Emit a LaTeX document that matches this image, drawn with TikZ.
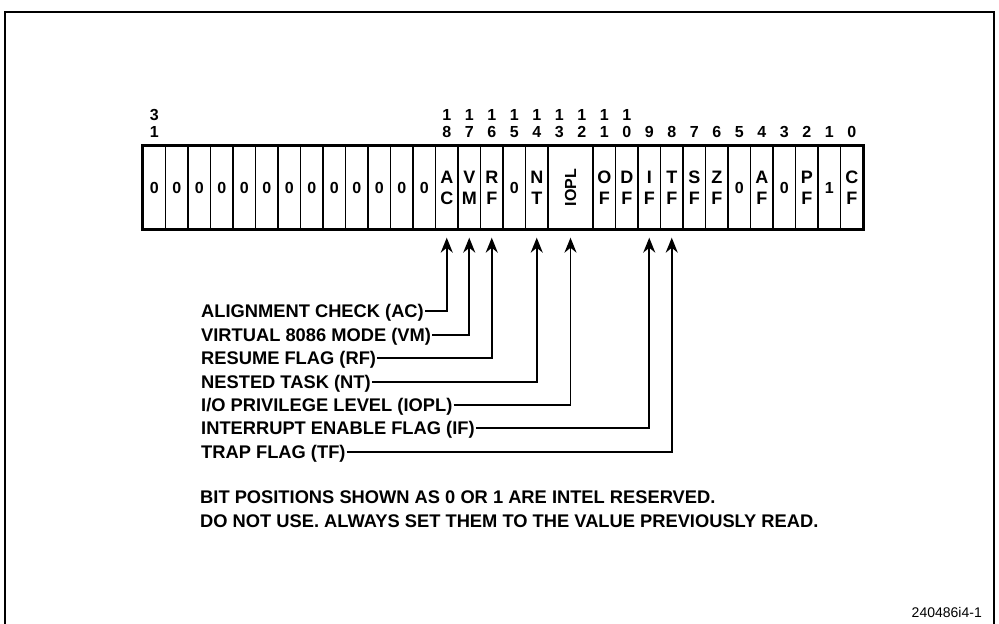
\documentclass[tikz,border=0pt]{standalone}
\usepackage{fontspec}
\setmainfont{Liberation Sans}
\usetikzlibrary{arrows.meta,positioning}
\tikzset{
  cell/.style={draw,line width=1.3pt,minimum width=22.5pt,minimum height=83pt,
               inner sep=0pt,align=center,font=\fontsize{18}{21}\selectfont\bfseries},
  zcell/.style={cell,font=\fontsize{16}{18}\selectfont\bfseries},
  bitno/.style={inner sep=0pt,font=\fontsize{16}{18}\selectfont\bfseries},
  flaglbl/.style={anchor=west,inner sep=1pt,text height=12.5pt,text depth=0pt,
                  font=\fontsize{18.3}{20}\selectfont\bfseries},
  flagarr/.style={-{Stealth[length=15pt,width=12pt]},line width=1.7pt},
  note/.style={anchor=west,inner sep=0pt,font=\fontsize{18.3}{20}\selectfont\bfseries},
}

\begin{document}
\begin{tikzpicture}[x=1pt,y=-1pt]
  \useasboundingbox (0,0) rectangle (999,624);
  \draw[line width=2.8pt] (5,640) -- (5,12) -- (994,12) -- (994,640);

  % register cells, bit 31 on the left
  \foreach \b in {31,...,19,15,5,3}
    \node[zcell] (c\b) at ({154.25+(31-\b)*22.5},187.5) {0};
  \node[zcell] (c1) at ({154.25+30*22.5},187.5) {1};
  \foreach \b/\p/\q in {18/A/C,17/V/M,16/R/F,14/N/T,11/O/F,10/D/F,9/I/F,
                        8/T/F,7/S/F,6/Z/F,4/A/F,2/P/F,0/C/F}
    \node[cell] (c\b) at ({154.25+(31-\b)*22.5},187.5) {\p\\\q};
  \node[cell,minimum width=45pt,font=\fontsize{16}{18}\selectfont\bfseries]
    (iopl) at (570.5,187.5) {\rotatebox{90}{IOPL}};
  \draw[line width=3pt] (c31.north west) rectangle (c0.south east);

  % bit numbers
  \node[bitno] (m31) at (154.25,115) {3};
  \node[bitno] (n31) at (154.25,132) {1};
  \foreach \b in {18,...,10}{
    \pgfmathtruncatemacro{\d}{\b-10}
    \node[bitno] (m\b) at ({154.25+(31-\b)*22.5},115) {1};
    \node[bitno] (n\b) at ({154.25+(31-\b)*22.5},132) {\d};
  }
  \foreach \b in {9,...,0}
    \node[bitno] (n\b) at ({154.25+(31-\b)*22.5},132) {\b};

  % flag names
  \node[flaglbl] (lAC)   at (200,311) {ALIGNMENT CHECK (AC)};
  \node[flaglbl] (lVM)   at (200,335) {VIRTUAL 8086 MODE (VM)};
  \node[flaglbl] (lRF)   at (200,358) {RESUME FLAG (RF)};
  \node[flaglbl] (lNT)   at (200,382) {NESTED TASK (NT)};
  \node[flaglbl] (lIOPL) at (200,405) {I/O PRIVILEGE LEVEL (IOPL)};
  \node[flaglbl] (lIF)   at (200,428) {INTERRUPT ENABLE FLAG (IF)};
  \node[flaglbl] (lTF)   at (200,452) {TRAP FLAG (TF)};
  \foreach \fl/\cl in {AC/c18,VM/c17,RF/c16,NT/c14,IOPL/iopl,IF/c9,TF/c8}
    \draw[flagarr] (l\fl.east) -| ([yshift=-8pt]\cl.south);

  \node[note] (rsv1) at (200,497) {BIT POSITIONS SHOWN AS 0 OR 1 ARE INTEL RESERVED.};
  \node[note] (rsv2) at (200,521) {DO NOT USE. ALWAYS SET THEM TO THE VALUE PREVIOUSLY READ.};
  \node[anchor=east,inner sep=0pt,font=\fontsize{14}{16}\selectfont]
    (figid) at (982,612) {240486i4-1};
\end{tikzpicture}
\end{document}
